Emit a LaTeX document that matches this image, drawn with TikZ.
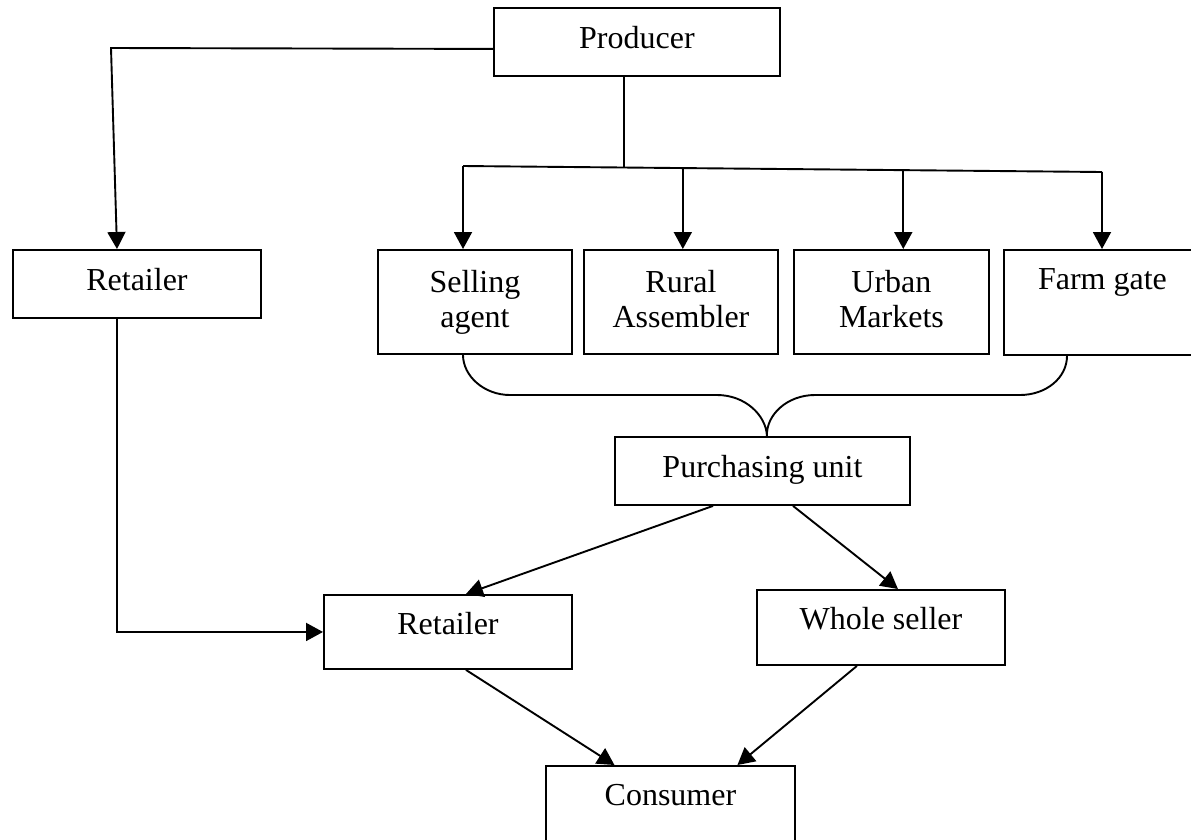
\documentclass[tikz,border=0pt]{standalone}
\usepackage{fontspec}
\setmainfont{Liberation Serif}
\usetikzlibrary{arrows.meta,calc}
\begin{document}
\begin{tikzpicture}[x=1pt,y=-1pt,
  lw/.style={line width=1.9pt},
  arr/.style={lw,-{Triangle[length=17pt,width=18pt]}},
  box/.style={draw,lw,inner xsep=0pt,inner ysep=0pt,anchor=north west,
    font=\fontsize{32}{35}\selectfont}]
\fill[white] (0,0) rectangle (1191,839);
\useasboundingbox (0,0) rectangle (1191,839);
% boxes
\node[box,minimum width=286pt,text height=41pt,text depth=27pt] (prod) at (493,7) {Producer};
\node[box,minimum width=248pt,text height=41pt,text depth=27pt] (ret1) at (12,249) {Retailer};
\node[box,minimum width=194pt,minimum height=104pt,align=center] (sell) at (377,249) {Selling\\agent};
\node[box,minimum width=194pt,minimum height=104pt,align=center] (rural) at (583,249) {Rural\\Assembler\vphantom{g}};
\node[box,minimum width=195pt,minimum height=104pt,align=center] (urban) at (793,249) {Urban\\Markets\vphantom{g}};
\node[box,minimum width=197pt,text height=40pt,text depth=65pt] (farm) at (1003,249) {Farm gate};
\node[box,minimum width=295pt,text height=41pt,text depth=27pt] (pu) at (614,436) {Purchasing unit};
\node[box,minimum width=248pt,text height=40pt,text depth=34pt] (ret2) at (323,594) {Retailer};
\node[box,minimum width=248pt,text height=40pt,text depth=35pt] (whole) at (756,589) {Whole seller};
\node[box,minimum width=249pt,text height=40pt,text depth=70pt] (cons) at (545,765) {Consumer};
% producer to left retailer
\coordinate (c1) at (111,48);
\draw[arr] ($(prod.north west)!0.6!(prod.south west)$) -- (c1) -- ($(ret1.north west)+(105,0)$);
% producer to branch
\coordinate (b1) at (463,166);
\coordinate (b4) at (1102,172);
\coordinate (b0) at ($(b1)!0.252!(b4)$);
\coordinate (b2) at ($(b1)!0.344!(b4)$);
\coordinate (b3) at ($(b1)!0.689!(b4)$);
\draw[lw] ($(prod.south west)+(131,0)$) -- (b0);
\draw[lw] (b1) -- (b4);
\draw[arr] (b1) -- (b1 |- sell.north);
\draw[arr] (b2) -- (b2 |- rural.north);
\draw[arr] (b3) -- (b3 |- urban.north);
\draw[arr] (b4) -- (b4 |- farm.north);
% brace
\coordinate (tip) at ($(pu.north)+(4.5,0)$);
\draw[lw] ($(sell.south west)+(86,0)$) .. controls (463,376) and (484,395) .. (510,395)
  -- (717,395) .. controls (745,395) and (766,415) .. (tip)
  .. controls (766,415) and (787,395) .. (815,395)
  -- (1020,395) .. controls (1046,395) and ($(farm.south west)+(64,22)$) .. ($(farm.south west)+(64,0)$);
% lower connectors
\draw[arr] ($(ret1.south west)+(105,0)$) |- (ret2.west);
\draw[arr] ($(pu.south west)+(99,0)$) -- ($(ret2.north)+(18,0)$);
\draw[arr] ($(pu.south west)+(179,0)$) -- ($(whole.north)+(17,0)$);
\draw[arr] ($(ret2.south)+(18,0)$) -- ($(cons.north)+(-56,0)$);
\draw[arr] ($(whole.south)+(-24,0)$) -- ($(cons.north)+(67,0)$);
\end{tikzpicture}
\end{document}
